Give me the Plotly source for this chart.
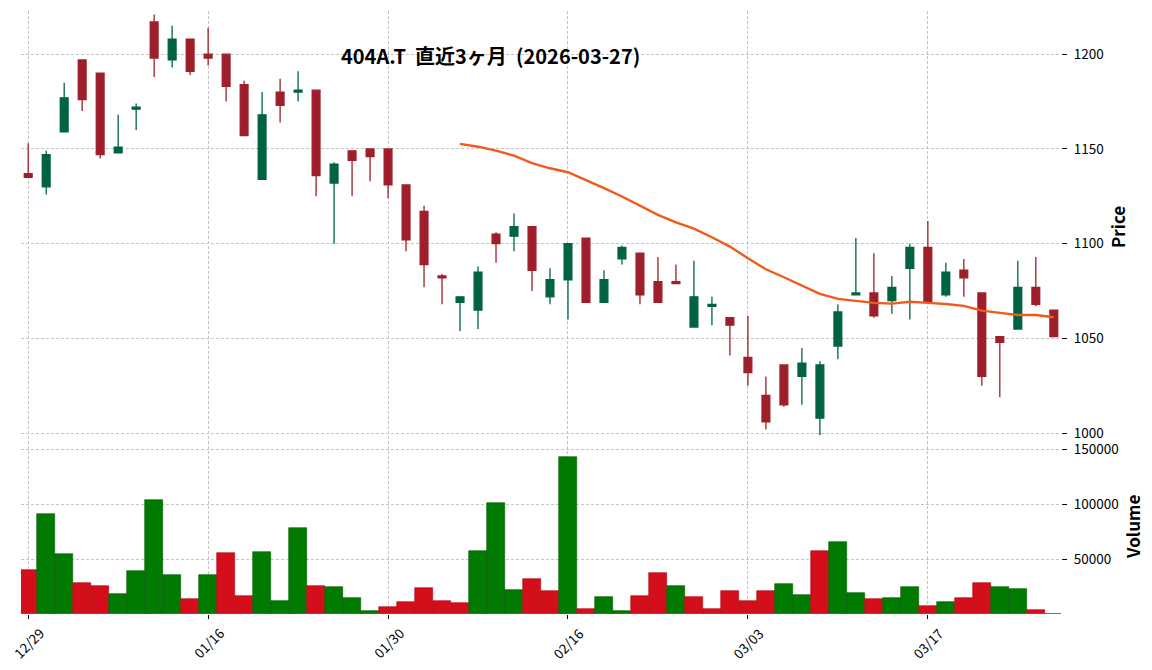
import plotly.graph_objects as go

# ---------------- data ----------------
dates = ["12/29", "12/30", "01/05", "01/06", "01/07", "01/08", "01/09", "01/13", "01/14", "01/15",
         "01/16", "01/19", "01/20", "01/21", "01/22", "01/23", "01/26", "01/27", "01/28", "01/29",
         "01/30", "02/02", "02/03", "02/04", "02/05", "02/06", "02/09", "02/10", "02/12", "02/13",
         "02/16", "02/17", "02/18", "02/19", "02/20", "02/24", "02/25", "02/26", "02/27", "03/02",
         "03/03", "03/04", "03/05", "03/06", "03/09", "03/10", "03/11", "03/12", "03/13", "03/16",
         "03/17", "03/18", "03/19", "03/23", "03/24", "03/25", "03/26", "03/27"]

opens = [1137, 1130, 1159, 1197, 1190, 1148, 1171, 1217, 1197, 1208,
         1200, 1200, 1184, 1134, 1180, 1180, 1181, 1132, 1149, 1150,
         1150, 1131, 1117, 1083, 1069, 1065, 1105, 1104, 1109, 1072,
         1081, 1103, 1069, 1092, 1095, 1080, 1080, 1056, 1067, 1061,
         1040, 1020, 1036, 1030, 1008, 1046, 1073, 1074, 1070, 1087,
         1098, 1073, 1086, 1074, 1051, 1055, 1077, 1065]
highs = [1153, 1149, 1185, 1197, 1190, 1168, 1174, 1221, 1215, 1208,
         1214, 1200, 1186, 1180, 1187, 1191, 1181, 1143, 1149, 1150,
         1150, 1131, 1120, 1084, 1072, 1088, 1106, 1116, 1109, 1087,
         1100, 1103, 1086, 1099, 1095, 1093, 1089, 1091, 1072, 1061,
         1062, 1030, 1036, 1045, 1038, 1068, 1103, 1095, 1083, 1100,
         1112, 1090, 1092, 1074, 1051, 1091, 1093, 1065]
lows = [1135, 1126, 1159, 1170, 1145, 1148, 1160, 1188, 1193, 1189,
        1194, 1175, 1157, 1134, 1164, 1175, 1125, 1100, 1125, 1133,
        1124, 1096, 1077, 1068, 1054, 1055, 1090, 1096, 1075, 1068,
        1060, 1069, 1069, 1089, 1068, 1069, 1079, 1056, 1057, 1041,
        1025, 1002, 1014, 1015, 999, 1039, 1073, 1061, 1063, 1060,
        1069, 1072, 1072, 1025, 1019, 1055, 1067, 1051]
closes = [1135, 1147, 1177, 1176, 1147, 1151, 1172, 1198, 1208, 1191,
          1198, 1183, 1157, 1168, 1173, 1181, 1136, 1142, 1144, 1146,
          1131, 1102, 1089, 1082, 1072, 1085, 1100, 1109, 1086, 1081,
          1100, 1069, 1081, 1098, 1073, 1069, 1079, 1072, 1068, 1057,
          1032, 1006, 1015, 1037, 1036, 1064, 1074, 1062, 1077, 1098,
          1069, 1085, 1082, 1030, 1048, 1077, 1068, 1051]
volumes = [40300, 91200, 54800, 28500, 25700, 18500, 39400, 103900, 35700, 13900,
           35700, 55700, 16600, 56600, 12100, 78500, 25700, 24800, 14800, 3000,
           6600, 11200, 23900, 12100, 10300, 57500, 101200, 22100, 32100, 21200,
           143000, 4800, 15700, 3000, 16600, 37500, 25700, 15700, 4800, 21200,
           12100, 21200, 27500, 17500, 57500, 65700, 19400, 13900, 14800, 24800,
           7500, 11200, 14800, 28500, 24800, 23000, 3900, 0]
# 25-day moving average, starting at the 25th session
ma25 = [1152.7, 1151.2, 1149.1, 1146.5, 1142.5, 1139.8, 1137.7, 1133.7, 1129.3, 1124.9,
        1120.1, 1115.2, 1111.3, 1108.0, 1103.4, 1098.5, 1092.3, 1086.5, 1082.3, 1077.9,
        1073.5, 1070.9, 1070.0, 1068.8, 1068.4, 1069.4, 1068.8, 1068.2, 1067.2, 1064.7,
        1063.5, 1062.4, 1062.4, 1061.2]
tick_idx = [0, 10, 20, 30, 40, 50]
tick_labels = [dates[i] for i in tick_idx]
price_ticks = [1000, 1050, 1100, 1150, 1200]
vol_ticks = [50000, 100000, 150000]
vol_tick_labels = ["50000", "100000", "150000"]
title = "404A.T\u00a0\u00a0直近3ヶ月\u00a0\u00a0(2026-03-27)"

# ---------------- styling ----------------
UP = "#006340"
DOWN = "#9e1f2a"
VUP = "#007a00"
VDOWN = "#d40f1b"
MA_COL = "#f05a1a"
FONT = "Noto Sans CJK JP"
GRID = "#c4c4c4"

# the page body has an 8px default margin; lay out in screen pixels and shift
OFF = 8
W, H = 1152 - OFF, 670 - OFF


def fx(px):
    return (px - OFF) / W


def fy(py):
    return 1 - (py - OFF) / H


px_l, px_r = 21, 1061
py_top, py_mid, py_bot = 11, 441, 614

x = list(range(len(closes)))
vol_colors = []
for i in range(len(closes)):
    ref = opens[i] if i == 0 else closes[i - 1]
    vol_colors.append(VUP if closes[i] > ref else VDOWN)
vol_edge = ["#005a00" if c == VUP else "#b00812" for c in vol_colors]

fig = go.Figure()
fig.add_trace(go.Candlestick(
    x=x, open=opens, high=highs, low=lows, close=closes,
    increasing=dict(line=dict(color=UP, width=1.3), fillcolor=UP),
    decreasing=dict(line=dict(color=DOWN, width=1.3), fillcolor=DOWN),
    whiskerwidth=0, xaxis="x", yaxis="y", showlegend=False, hoverinfo="skip"))
fig.add_trace(go.Scatter(
    x=x[len(x) - len(ma25):], y=ma25, mode="lines",
    line=dict(color=MA_COL, width=2.4), xaxis="x", yaxis="y",
    showlegend=False, hoverinfo="skip"))
fig.add_trace(go.Bar(
    x=x, y=volumes, marker=dict(color=vol_colors, line=dict(color=vol_edge, width=0.6)),
    width=1.0, xaxis="x2", yaxis="y2", showlegend=False, hoverinfo="skip"))

xr = [-0.4, len(x) - 1 + 0.4]
common_x = dict(range=xr, tickmode="array", tickvals=tick_idx, showgrid=True,
                gridcolor=GRID, gridwidth=0.8, griddash="3px,2px", zeroline=False,
                showline=False, domain=[fx(px_l), fx(px_r)], fixedrange=True,
                automargin=False, showticklabels=False)
common_y = dict(side="right", tickmode="array", ticks="outside", ticklen=5,
                tickwidth=1.2, tickcolor="black", showgrid=True, gridcolor=GRID,
                gridwidth=0.8, griddash="3px,2px", zeroline=False, showline=False,
                ticklabelstandoff=4, automargin=False, ticklabeloverflow="allow",
                tickfont=dict(family=FONT, size=13.5, color="black"))

# rotated date labels centred under their ticks (as matplotlib draws them)
date_annotations = [
    dict(text=lab, x=i, y=fy(643), xref="x2", yref="paper", showarrow=False,
         textangle=-45, xanchor="center", yanchor="middle",
         font=dict(family=FONT, size=13.5, color="black"))
    for i, lab in zip(tick_idx, tick_labels)
]

fig.update_layout(
    width=W, height=H, margin=dict(l=0, r=0, t=0, b=0, autoexpand=False),
    paper_bgcolor="white", plot_bgcolor="white",
    font=dict(family=FONT, color="black", size=13.5),
    boxgap=0.38, bargap=0,
    xaxis=dict(**common_x, anchor="y", ticks="", rangeslider=dict(visible=False)),
    xaxis2=dict(**common_x, anchor="y2", matches="x",
                ticks="outside", ticklen=4, tickwidth=1.2, tickcolor="black"),
    yaxis=dict(**common_y, domain=[fy(py_mid), fy(py_top)], range=[995.9, 1222.8],
               anchor="x", tickvals=price_ticks),
    yaxis2=dict(**common_y, domain=[fy(py_bot), fy(py_mid)], range=[0, 157300],
                anchor="x2", tickvals=vol_ticks, ticktext=vol_tick_labels),
    annotations=[
        dict(text="<b>" + title + "</b>", x=fx(490), y=fy(55), xref="paper", yref="paper",
             showarrow=False, xanchor="center", yanchor="middle",
             font=dict(family=FONT, size=20, color="black")),
        dict(text="<b>Price</b>", x=fx(1117), y=fy(227), xref="paper", yref="paper",
             showarrow=False, textangle=-90, xanchor="center", yanchor="middle",
             font=dict(family=FONT, size=17, color="black")),
        dict(text="<b>Volume</b>", x=fx(1132), y=fy(527), xref="paper", yref="paper",
             showarrow=False, textangle=-90, xanchor="center", yanchor="middle",
             font=dict(family=FONT, size=17, color="black")),
    ] + date_annotations,
)

fig.write_html("out.html")
